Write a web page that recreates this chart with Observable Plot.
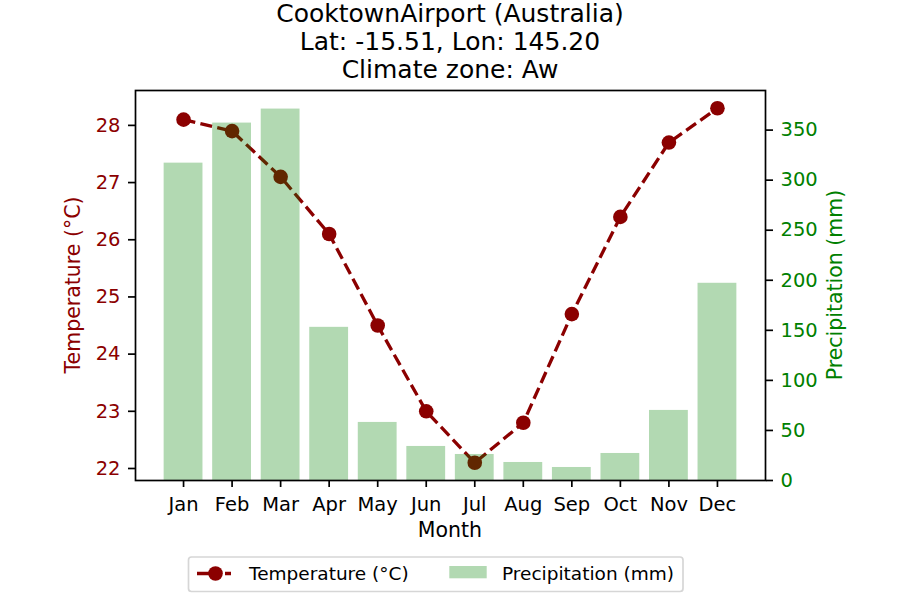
<!DOCTYPE html>
<html>
<head>
<meta charset="utf-8">
<script src="https://cdn.jsdelivr.net/npm/d3@7"></script>
<script src="https://cdn.jsdelivr.net/npm/@observablehq/plot@0.6"></script>
<style>
html, body { margin: 0; padding: 0; background: #fff; }
#chart { position: relative; width: 900px; height: 600px; font-family: "DejaVu Sans", sans-serif; }
</style>
</head>
<body>
<div id="chart"></div>
<script>
const months = ["Jan", "Feb", "Mar", "Apr", "May", "Jun", "Jul", "Aug", "Sep", "Oct", "Nov", "Dec"];
const temperature = [28.1, 27.9, 27.1, 26.1, 24.5, 23.0, 22.1, 22.8, 24.7, 26.4, 27.7, 28.3];
const precipitation = [317, 357, 371, 153, 58, 34, 26, 18, 13, 27, 70, 197];
const tempTicks = [22, 23, 24, 25, 26, 27, 28];
const precipTicks = [0, 50, 100, 150, 200, 250, 300, 350];
const titleLines = ["CooktownAirport (Australia)", "Lat: -15.51, Lon: 145.20", "Climate zone: Aw"];
const xLabel = "Month";
const tempLabel = "Temperature (°C)";
const precipLabel = "Precipitation (mm)";

const tempColor = "#8b0000";
const precipColor = "green";

// matplotlib-like 5% margins
const tLo = d3.min(temperature), tHi = d3.max(temperature);
const tPad = (tHi - tLo) * 0.05;
const tDomain = [tLo - tPad, tHi + tPad];
const pMax = d3.max(precipitation) * 1.05;
const p2t = p => tDomain[0] + (p / pMax) * (tDomain[1] - tDomain[0]);
const t2p = t => ((t - tDomain[0]) / (tDomain[1] - tDomain[0])) * pMax;

const data = months.map((m, i) => ({ month: m, temp: temperature[i], precip: precipitation[i] }));

const plot = Plot.plot({
  width: 900,
  height: 600,
  marginLeft: 135,
  marginRight: 135,
  marginTop: 90,
  marginBottom: 120,
  style: { fontFamily: '"DejaVu Sans", sans-serif', fontSize: "19.5px", background: "white", color: "black" },
  x: { type: "band", domain: months, paddingInner: 0.2, paddingOuter: 0.59, align: 0.5, round: false },
  y: { domain: tDomain },
  marks: [
    Plot.line(data, { x: "month", y: "temp", stroke: tempColor, strokeWidth: 3.3, strokeDasharray: "12,5.3",
      strokeLinecap: "butt", strokeLinejoin: "round" }),
    Plot.dot(data, { x: "month", y: "temp", r: 7.3, fill: tempColor, stroke: "none" }),
    Plot.barY(data, { x: "month", y1: d => p2t(0), y2: d => p2t(d.precip), fill: precipColor, fillOpacity: 0.3 }),
    Plot.frame({ stroke: "black", strokeWidth: 1.7 }),
    Plot.axisX({ tickSize: 7, tickPadding: 10, label: null, fontSize: 19.5, strokeWidth: 1.7 }),
    Plot.axisY(tempTicks, { anchor: "left", tickSize: 7, tickPadding: 8, label: null, fontSize: 19.5,
      fill: tempColor, stroke: "black", strokeWidth: 1.7, tickFormat: d => String(d) }),
    Plot.axisY(precipTicks.map(p2t), { anchor: "right", tickSize: 7, tickPadding: 8, label: null, fontSize: 19.5,
      fill: precipColor, stroke: "black", strokeWidth: 1.7, tickFormat: d => String(Math.round(t2p(d))) })
  ]
});

document.getElementById("chart").appendChild(plot);

const svg = d3.select(plot);
const font = '"DejaVu Sans", sans-serif';

// Title
const title = svg.append("g").attr("font-family", font).attr("font-size", 25).attr("text-anchor", "middle").attr("fill", "black");
titleLines.forEach((t, i) => {
  title.append("text").attr("x", 450).attr("y", 22 + i * 28).text(t);
});

// Axis labels
svg.append("text").attr("x", 450).attr("y", 537).attr("text-anchor", "middle")
  .attr("font-family", font).attr("font-size", 20.5).attr("fill", "black").text(xLabel);
svg.append("text").attr("transform", "translate(80,285) rotate(-90)").attr("text-anchor", "middle")
  .attr("font-family", font).attr("font-size", 20.5).attr("fill", tempColor).text(tempLabel);
svg.append("text").attr("transform", "translate(842,285) rotate(-90)").attr("text-anchor", "middle")
  .attr("font-family", font).attr("font-size", 20.5).attr("fill", precipColor).text(precipLabel);

// Legend
const lg = svg.append("g").attr("font-family", font).attr("font-size", 18.5).attr("text-anchor", "start");
lg.append("rect").attr("x", 188.5).attr("y", 557).attr("width", 494.5).attr("height", 34.5).attr("rx", 3)
  .attr("fill", "white").attr("stroke", "#d6d6d6").attr("stroke-width", 1.7);
lg.append("line").attr("x1", 197).attr("x2", 234).attr("y1", 573.5).attr("y2", 573.5)
  .attr("stroke", tempColor).attr("stroke-width", 3.3).attr("stroke-dasharray", "20,8,6,20");
lg.append("circle").attr("cx", 215.5).attr("cy", 573.5).attr("r", 7.3).attr("fill", tempColor);
lg.append("text").attr("x", 249).attr("y", 579.5).attr("fill", "black").attr("text-anchor", "start").text(tempLabel);
lg.append("rect").attr("x", 449.3).attr("y", 566).attr("width", 37.4).attr("height", 12.3)
  .attr("fill", precipColor).attr("fill-opacity", 0.3);
lg.append("text").attr("x", 502).attr("y", 579.5).attr("fill", "black").attr("text-anchor", "start").text(precipLabel);
</script>
</body>
</html>
